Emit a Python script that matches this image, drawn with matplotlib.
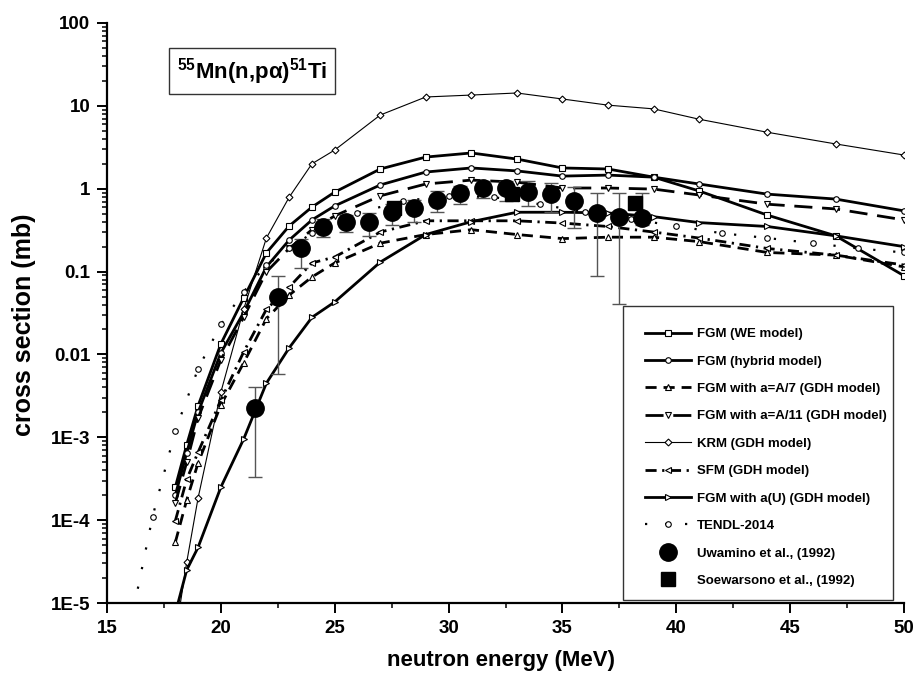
import matplotlib
matplotlib.use("Agg")
import matplotlib.pyplot as plt
from matplotlib.patches import Rectangle
from matplotlib.ticker import LogLocator, NullFormatter, MultipleLocator

plt.rcParams['font.family'] = ['Liberation Sans', 'DejaVu Sans']
plt.rcParams['font.weight'] = 'bold'
plt.rcParams['mathtext.fontset'] = 'custom'
plt.rcParams['mathtext.rm'] = 'Liberation Sans:bold'
plt.rcParams['mathtext.bf'] = 'Liberation Sans:bold'
plt.rcParams['mathtext.it'] = 'Liberation Sans:bold'
plt.rcParams['mathtext.sf'] = 'Liberation Sans:bold'

# ---------------- data ----------------
E_model = [18, 18.5, 19, 20, 21, 22, 23, 24, 25, 27, 29, 31, 33, 35, 37, 39, 41, 44, 47, 50]
fgm_we = [2.5e-4, 8.1e-4, 2.4e-3, 1.34e-2, 4.8e-2, 0.168, 0.355, 0.60, 0.91, 1.73, 2.41, 2.70,
          2.28, 1.78, 1.73, 1.38, 0.94, 0.48, 0.27, 0.089]
fgm_hybrid = [2.0e-4, 6.5e-4, 2.0e-3, 1.04e-2, 3.2e-2, 0.114, 0.24, 0.42, 0.62, 1.11, 1.59, 1.78,
              1.64, 1.42, 1.46, 1.38, 1.14, 0.86, 0.75, 0.54]
fgm_a7 = [5.4e-5, 1.75e-4, 4.9e-4, 2.45e-3, 7.9e-3, 0.027, 0.052, 0.086, 0.127, 0.22, 0.28, 0.32,
          0.28, 0.25, 0.26, 0.26, 0.23, 0.17, 0.158, 0.114]
fgm_a11 = [1.6e-4, 5.0e-4, 1.7e-3, 8.6e-3, 2.8e-2, 0.099, 0.19, 0.32, 0.47, 0.82, 1.14, 1.27,
           1.20, 1.02, 1.02, 0.99, 0.84, 0.65, 0.57, 0.42]
krm = [4e-6, 3.1e-5, 1.85e-4, 3.5e-3, 3.5e-2, 0.254, 0.79, 2.0, 2.93, 7.75, 12.8, 13.5,
       14.3, 12.1, 10.2, 9.2, 6.9, 4.8, 3.47, 2.55]
sfm = [9.8e-5, 3.1e-4, 6.6e-4, 2.8e-3, 1.07e-2, 0.035, 0.065, 0.127, 0.15, 0.30, 0.41, 0.41,
       0.41, 0.385, 0.35, 0.30, 0.254, 0.19, 0.158, 0.12]
fgm_aU = [7.5e-6, 2.5e-5, 4.7e-5, 2.5e-4, 9.5e-4, 4.5e-3, 0.012, 0.028, 0.043, 0.13, 0.28, 0.40,
          0.52, 0.52, 0.51, 0.46, 0.39, 0.35, 0.27, 0.20]

E_tendl = [16, 17, 18, 19, 20, 21, 22, 23, 24, 26, 28, 30, 32, 34, 36, 38, 40, 42, 44, 46, 48, 50]
tendl = [5e-6, 1.1e-4, 1.2e-3, 6.7e-3, 2.3e-2, 5.7e-2, 0.12, 0.19, 0.29, 0.51, 0.71, 0.82,
         0.79, 0.65, 0.52, 0.43, 0.355, 0.29, 0.254, 0.22, 0.19, 0.17]

E_uwamino = [21.5, 22.5, 23.5, 24.5, 25.5, 26.5, 27.5, 28.5, 29.5, 30.5, 31.5, 32.5, 33.5,
             34.5, 35.5, 36.5, 37.5, 38.5]
uwamino = [2.26e-3, 0.049, 0.19, 0.345, 0.40, 0.40, 0.52, 0.585, 0.73, 0.89, 1.02, 1.02, 0.91,
           0.86, 0.71, 0.51, 0.46, 0.44]
uwamino_hi = [4.05e-3, 0.089, 0.25, 0.43, 0.48, 0.51, 0.66, 0.735, 0.94, 1.07, 1.23, 1.23, 1.23,
              1.17, 1.05, 0.89, 0.89, 0.89]
uwamino_lo = [3.3e-4, 5.8e-3, 0.11, 0.26, 0.30, 0.27, 0.36, 0.40, 0.52, 0.66, 0.77, 0.72, 0.62,
              0.52, 0.34, 0.088, 0.041, 0.36]

E_soewarsono = [27.6, 32.8, 38.2]
soewarsono = [0.58, 0.86, 0.67]

yticks = [1e-5, 1e-4, 1e-3, 1e-2, 1e-1, 1, 10, 100]
ytick_labels = ['1E-5', '1E-4', '1E-3', '0.01', '0.1', '1', '10', '100']
xticks = [15, 20, 25, 30, 35, 40, 45, 50]

labels = ['FGM (WE model)', 'FGM (hybrid model)', 'FGM with a=A/7 (GDH model)',
          'FGM with a=A/11 (GDH model)', 'KRM (GDH model)', 'SFM (GDH model)',
          'FGM with a(U) (GDH model)', 'TENDL-2014', 'Uwamino et al., (1992)',
          'Soewarsono et al., (1992)']

# ---------------- figure ----------------
W, H = 917, 676
fig = plt.figure(figsize=(W / 100, H / 100), dpi=100)
ax = fig.add_axes([107 / W, (H - 603) / H, 797 / W, 580 / H])

mk = dict(markersize=4, markerfacecolor='white', markeredgecolor='black', markeredgewidth=0.8)
h = []
h += ax.plot(E_model, fgm_we, color='black', lw=2.0, ls='-', marker='s', **mk)
h += ax.plot(E_model, fgm_hybrid, color='black', lw=2.0, ls='-', marker='o', **mk)
h += ax.plot(E_model, fgm_a7, color='black', lw=2.0, ls=(0, (4, 2.5)), marker='^', **mk)
h += ax.plot(E_model, fgm_a11, color='black', lw=2.0, ls=(0, (6.5, 3.5)), marker='v', **mk)
h += ax.plot(E_model, krm, color='black', lw=0.8, ls='-', marker='D',
             markersize=3.5, markerfacecolor='white', markeredgecolor='black', markeredgewidth=0.8)
h += ax.plot(E_model, sfm, color='black', lw=2.0, ls=(0, (4, 2, 0.8, 2)), marker='<', **mk)
h += ax.plot(E_model, fgm_aU, color='black', lw=2.0, ls='-', marker='>', **mk)
h += ax.plot(E_tendl, tendl, color='black', lw=1.6, ls=(0, (1, 8)), marker='o', **mk)

# experimental data
yerr_lo = [v - lo for v, lo in zip(uwamino, uwamino_lo)]
yerr_hi = [hi - v for v, hi in zip(uwamino, uwamino_hi)]
ax.errorbar(E_uwamino, uwamino, yerr=[yerr_lo, yerr_hi], fmt='none', ecolor='#555555',
            elinewidth=1.0, capsize=5, capthick=1.0, zorder=4)
h += ax.plot(E_uwamino, uwamino, ls='none', marker='o', markersize=12.5,
             color='black', zorder=5)
h += ax.plot(E_soewarsono, soewarsono, ls='none', marker='s', markersize=10,
             color='black', zorder=5)

ax.set_yscale('log')
ax.set_xlim(15, 50)
ax.set_ylim(1e-5, 100)
ax.set_xticks(xticks)
ax.set_xticklabels([str(t) for t in xticks])
ax.xaxis.set_minor_locator(MultipleLocator(2.5))
ax.set_yticks(yticks)
ax.set_yticklabels(ytick_labels)
ax.yaxis.set_minor_locator(LogLocator(base=10, subs=range(2, 10), numticks=20))
ax.yaxis.set_minor_formatter(NullFormatter())

for s in ['top', 'right']:
    ax.spines[s].set_visible(False)
for s in ['left', 'bottom']:
    ax.spines[s].set_linewidth(1.6)

ax.tick_params(axis='both', which='major', direction='out', length=7, width=1.4,
               labelsize=13.5, pad=5)
ax.tick_params(axis='both', which='minor', direction='out', length=3.5, width=1.1)
for lab in ax.get_xticklabels() + ax.get_yticklabels():
    lab.set_fontweight('bold')

ax.set_xlabel('neutron energy (MeV)', fontsize=16, fontweight='bold')
ax.set_ylabel('cross section (mb)', fontsize=18, fontweight='bold')
ax.xaxis.set_label_coords(0.494, -0.081)
ax.yaxis.set_label_coords(-0.089, 0.479)

# reaction label box
ax.text(0.182, 0.917, r'$^{55}$Mn(n,p$\alpha$)$^{51}$Ti', transform=ax.transAxes,
        fontsize=16, fontweight='bold', ha='center', va='center',
        bbox=dict(boxstyle='square,pad=0.35', facecolor='white', edgecolor='#333333', lw=1.0))

# legend frame and legend
fig.patches.append(Rectangle((623 / W, (H - 600) / H), 270 / W, 294 / H,
                             transform=fig.transFigure, facecolor='white',
                             edgecolor='#333333', lw=1.0, zorder=6))
leg = fig.legend(h, labels, loc='upper left', bbox_to_anchor=(645 / W, (H - 328) / H),
                 bbox_transform=fig.transFigure, frameon=False, fontsize=9.5,
                 handlelength=3.5, handletextpad=0.45, labelspacing=1.15, borderpad=0,
                 borderaxespad=0, numpoints=1)
leg.set_zorder(7)
for t in leg.get_texts():
    t.set_fontweight('bold')

fig.savefig('out.png', dpi=100)
